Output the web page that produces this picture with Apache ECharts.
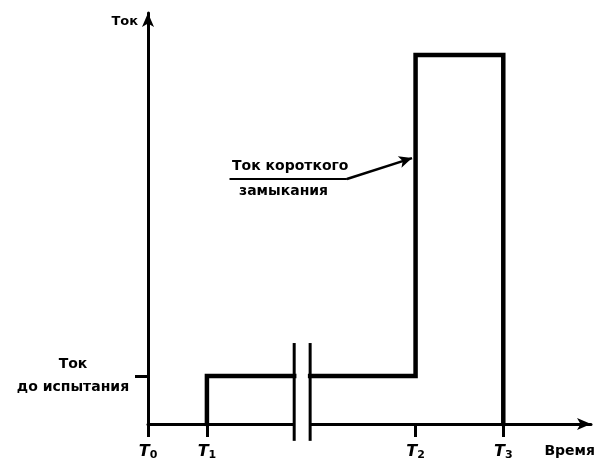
<!DOCTYPE html>
<html>
<head>
<meta charset="utf-8">
<script src="https://cdn.jsdelivr.net/npm/echarts@6/dist/echarts.min.js"></script>
<style>
  html, body { margin: 0; padding: 0; background: #fff; }
  #chart { width: 598px; height: 462px; }
</style>
</head>
<body>
<div id="chart"></div>
<script>
// моменты времени T0..T3 (условные единицы, 0..100)
const timeTicks = [0, 13.3, 60.4, 80.2];
const tickIndex = ['0', '1', '2', '3'];
// разрыв оси времени
const breakAt = [33.0, 36.6];
const breakSpan = [-4.1, 19.7];
// уровни тока: ток до испытания, ток короткого замыкания
const preCurrent = 11.7;
const shortCurrent = 89.8;
// линия-выноска к подписи «Ток короткого замыкания»
const leaderX = [18.4, 44.9, 59.6];
const leaderY = [59.6, 59.6, 64.7];

const font = 'DejaVu Sans';
const T1 = timeTicks[1], T2 = timeTicks[2], T3 = timeTicks[3];

const pulseLeft = [[T1, 0], [T1, preCurrent], [breakAt[0], preCurrent]];
const pulseRight = [[breakAt[1], preCurrent], [T2, preCurrent], [T2, shortCurrent], [T3, shortCurrent], [T3, 0]];

function vline(x) {
  return [[x, breakSpan[0]], [x, breakSpan[1]]];
}

const myChart = echarts.init(document.getElementById('chart'));
const option = {
  animation: false,
  backgroundColor: '#fff',
  grid: { left: 148, right: 5, top: 13, bottom: 38 },
  xAxis: {
    type: 'value',
    min: 0,
    max: 100,
    name: 'Время',
    nameLocation: 'end',
    nameGap: 4,
    nameTextStyle: {
      fontFamily: font, fontWeight: 'bold', fontSize: 14, color: '#000',
      align: 'right', verticalAlign: 'top', padding: [20, 0, 0, 0]
    },
    splitLine: { show: false },
    axisLine: {
      lineStyle: { color: '#000', width: 3 },
      symbol: ['none', 'arrow'],
      symbolSize: [9, 14]
    },
    axisTick: {
      customValues: timeTicks,
      length: 13,
      lineStyle: { color: '#000', width: 3 }
    },
    axisLabel: {
      customValues: timeTicks,
      margin: 18,
      formatter: function (v) {
        const i = timeTicks.indexOf(v);
        return '{t|T}{s|' + tickIndex[i] + '}';
      },
      rich: {
        t: { fontFamily: font, fontStyle: 'italic', fontWeight: 'bold', fontSize: 16, color: '#000' },
        s: { fontFamily: font, fontWeight: 'bold', fontSize: 11, color: '#000', padding: [8, 0, 0, 0] }
      }
    }
  },
  yAxis: {
    type: 'value',
    min: 0,
    max: 100,
    name: 'Ток',
    nameLocation: 'end',
    nameGap: 0,
    nameTextStyle: {
      fontFamily: font, fontWeight: 'bold', fontSize: 13, color: '#000',
      align: 'right', verticalAlign: 'top', padding: [2, 10, 0, 0]
    },
    splitLine: { show: false },
    axisLine: {
      lineStyle: { color: '#000', width: 3 },
      symbol: ['none', 'arrow'],
      symbolSize: [9, 14]
    },
    axisTick: {
      customValues: [preCurrent],
      length: 13,
      lineStyle: { color: '#000', width: 3 }
    },
    axisLabel: {
      customValues: [preCurrent],
      margin: 75,
      align: 'center',
      lineHeight: 23,
      fontFamily: font,
      fontWeight: 'bold',
      fontSize: 14,
      color: '#000',
      formatter: function () { return 'Ток\nдо испытания'; }
    }
  },
  series: [
    {
      // закрываем ось в месте разрыва
      type: 'line', data: [[breakAt[0], 0], [breakAt[1], 0]],
      symbol: 'none', z: 3, silent: true,
      lineStyle: { color: '#fff', width: 6 }
    },
    {
      type: 'line', data: pulseLeft, symbol: 'none', z: 4,
      lineStyle: { color: '#000', width: 4.5, cap: 'square', join: 'miter' }
    },
    {
      type: 'line', data: pulseRight, symbol: 'none', z: 4,
      lineStyle: { color: '#000', width: 4.5, cap: 'square', join: 'miter' }
    },
    {
      type: 'line', data: vline(breakAt[0]), symbol: 'none', clip: false, z: 5,
      lineStyle: { color: '#000', width: 3 }
    },
    {
      type: 'line', data: vline(breakAt[1]), symbol: 'none', clip: false, z: 5,
      lineStyle: { color: '#000', width: 3 }
    },
    {
      type: 'line',
      data: [[leaderX[0], leaderY[0]], [leaderX[1], leaderY[1]]],
      symbol: 'none', z: 5,
      lineStyle: { color: '#000', width: 2 },
      markLine: {
        silent: true,
        symbol: ['none', 'arrow'],
        symbolSize: [9, 13],
        label: { show: false },
        lineStyle: { color: '#000', width: 2.5, type: 'solid' },
        data: [[{ coord: [leaderX[1], leaderY[1]] }, { coord: [leaderX[2], leaderY[2]] }]]
      }
    }
  ],
  graphic: [
    {
      type: 'text', left: 232, top: 159,
      style: { text: 'Ток короткого', font: 'bold 14px "DejaVu Sans"', fill: '#000' }
    },
    {
      type: 'text', left: 239, top: 184,
      style: { text: 'замыкания', font: 'bold 14px "DejaVu Sans"', fill: '#000' }
    }
  ]
};

myChart.setOption(option);
</script>
</body>
</html>
